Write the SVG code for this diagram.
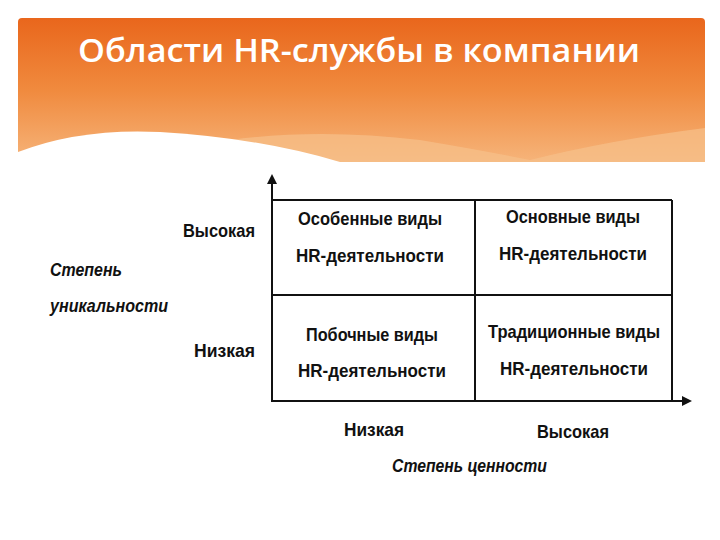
<svg xmlns="http://www.w3.org/2000/svg" width="720" height="540" viewBox="0 0 720 540">
<style>
.t{font-family:"Liberation Sans",Arial,sans-serif;font-size:19px;font-weight:bold;fill:#111;}
.i{font-style:italic;}
.ln{stroke:#111;stroke-width:2;fill:none;}
</style>
<defs>
<linearGradient id="g" x1="0" y1="0" x2="0" y2="1">
<stop offset="0" stop-color="#e9661c"/><stop offset="0.5" stop-color="#f08a3e"/><stop offset="1" stop-color="#f6b47a"/>
</linearGradient>
<marker id="ar" markerWidth="10" markerHeight="10" refX="8" refY="5" orient="auto" markerUnits="userSpaceOnUse"><path d="M0,0 L10,5 L0,10 z" fill="#111"/></marker>
</defs>
<rect width="720" height="540" fill="#fff"/>
<g id="header">
<path d="M18,22 Q18,18 22,18 L701,18 Q705,18 705,22 L705,162 L18,162 z" fill="url(#g)"/>
<path d="M230,140 Q320,128 420,140 Q480,150 530,160 Q610,140 705,128 L705,162 L230,162 z" fill="#f7c08a" opacity="0.7"/>
<path d="M18,152 Q80,128 160,132 Q260,138 340,162 L18,162 z" fill="#fff"/>
<text x="78" y="62" textLength="562" lengthAdjust="spacingAndGlyphs" font-family="'Open Sans','Noto Sans',sans-serif" font-weight="600" font-size="32" fill="#fff">Области HR-службы в компании</text>
</g>
<g id="connectors">
<line class="ln" x1="272" y1="402" x2="272" y2="176" marker-end="url(#ar)"/>
<line class="ln" x1="272" y1="401" x2="690" y2="401" marker-end="url(#ar)"/>
<line class="ln" x1="272" y1="200" x2="672" y2="200"/>
<line class="ln" x1="672" y1="200" x2="672" y2="401"/>
<line class="ln" x1="272" y1="295" x2="672" y2="295"/>
<line class="ln" x1="475" y1="200" x2="475" y2="401"/>
</g>
<g id="q1"><text class="t" x="298" y="225" textLength="144" lengthAdjust="spacingAndGlyphs">Особенные виды</text><text class="t" x="296" y="262" textLength="148" lengthAdjust="spacingAndGlyphs">HR-деятельности</text></g>
<g id="q2"><text class="t" x="506" y="223" textLength="134" lengthAdjust="spacingAndGlyphs">Основные виды</text><text class="t" x="499" y="260" textLength="148" lengthAdjust="spacingAndGlyphs">HR-деятельности</text></g>
<g id="q3"><text class="t" x="306" y="341" textLength="132" lengthAdjust="spacingAndGlyphs">Побочные виды</text><text class="t" x="298" y="377" textLength="148" lengthAdjust="spacingAndGlyphs">HR-деятельности</text></g>
<g id="q4"><text class="t" x="488" y="338" textLength="172" lengthAdjust="spacingAndGlyphs">Традиционные виды</text><text class="t" x="500" y="375" textLength="148" lengthAdjust="spacingAndGlyphs">HR-деятельности</text></g>
<g id="ylabels">
<text class="t" x="183" y="237" textLength="72" lengthAdjust="spacingAndGlyphs">Высокая</text>
<text class="t" x="194" y="357" textLength="61" lengthAdjust="spacingAndGlyphs">Низкая</text>
<text class="t i" x="50" y="276" textLength="72" lengthAdjust="spacingAndGlyphs">Степень</text>
<text class="t i" x="50" y="312" textLength="118" lengthAdjust="spacingAndGlyphs">уникальности</text>
</g>
<g id="xlabels">
<text class="t" x="344" y="436" textLength="60" lengthAdjust="spacingAndGlyphs">Низкая</text>
<text class="t" x="537" y="438" textLength="72" lengthAdjust="spacingAndGlyphs">Высокая</text>
<text class="t i" x="392" y="472" textLength="155" lengthAdjust="spacingAndGlyphs">Степень ценности</text>
</g>
</svg>
